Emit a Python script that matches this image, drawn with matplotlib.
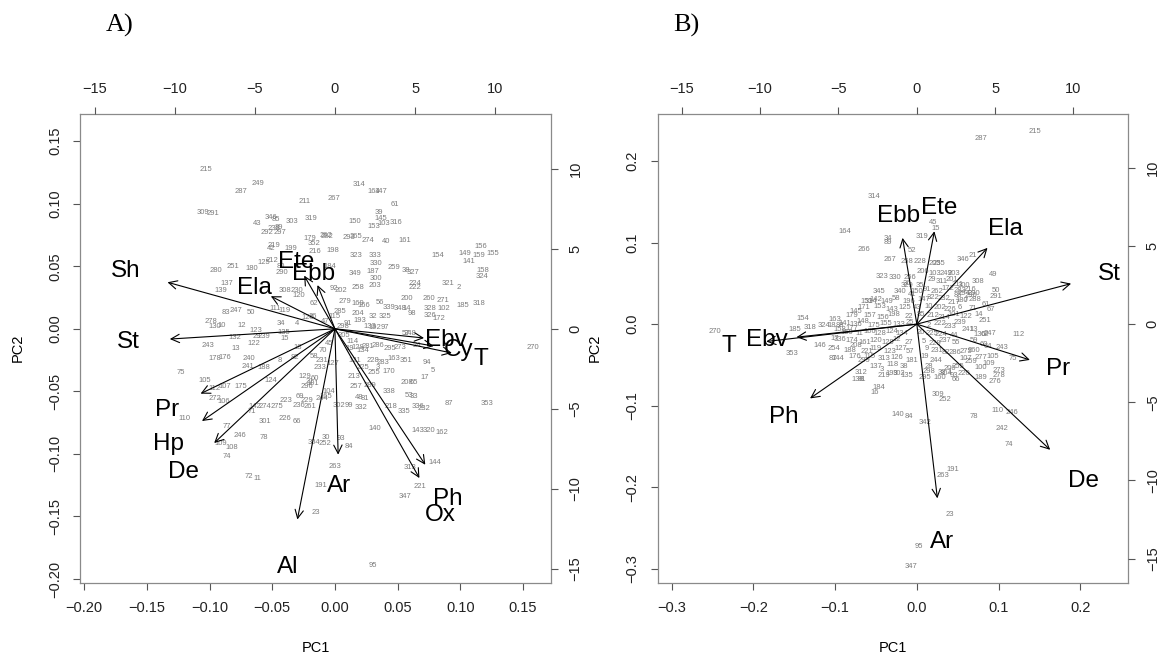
import matplotlib
matplotlib.use('Agg')
import matplotlib.pyplot as plt

plt.rcParams['font.family'] = ['Liberation Sans', 'DejaVu Sans']

# ---------------- panel A: observation scores (bottom / left scale) ----------------
a_lab = [215, 287, 249, 211, 267, 314, 164, 147, 61, 309,
         291, 346, 85, 43, 303, 319, 150, 39, 145, 153,
         103, 316, 238, 89, 292, 297, 179, 352, 216, 262,
         282, 293, 265, 274, 40, 161, 219, 42, 199, 198,
         323, 333, 330, 154, 156, 149, 159, 155, 141, 158,
         324, 280, 251, 180, 125, 212, 80, 290, 184, 349,
         300, 187, 203, 259, 38, 327, 258, 224, 222, 321,
         2, 137, 139, 92, 202, 308, 230, 120, 56, 339,
         348, 14, 200, 260, 271, 328, 102, 185, 318, 326,
         172, 98, 83, 247, 50, 111, 119, 62, 279, 169,
         285, 204, 32, 325, 278, 130, 10, 12, 123, 132,
         29, 239, 122, 243, 13, 178, 176, 240, 241, 188,
         8, 75, 105, 112, 107, 175, 124, 272, 106, 110,
         274, 275, 71, 142, 223, 236, 261, 301, 226, 66,
         77, 246, 78, 109, 108, 74, 72, 11, 30, 304,
         252, 93, 84, 263, 191, 23, 95, 140, 143, 320,
         162, 313, 221, 347, 144, 353, 87, 270, 338, 335,
         336, 232, 218, 208, 65, 17, 94, 5, 53, 33,
         170, 351, 163, 228, 283, 332, 48, 81, 302, 99,
         3, 255, 114, 205, 192, 57, 134, 26, 126, 34,
         4, 15, 135, 18, 82, 58, 231, 127, 233, 70,
         129, 21, 296, 60, 101, 104, 165, 69, 229, 244,
         166, 193, 133, 97, 248, 128, 281, 286, 295, 273,
         24, 121, 213, 257, 289, 225, 91, 47, 19, 45,
         115, 298]
a_x = [-0.103, -0.075, -0.061, -0.024, -0.001, 0.019, 0.031, 0.037, 0.048, -0.105,
       -0.097, -0.051, -0.047, -0.062, -0.034, -0.019, 0.016, 0.035, 0.037, 0.031,
       0.039, 0.049, -0.049, -0.045, -0.054, -0.044, -0.020, -0.017, -0.016, -0.007,
       -0.006, 0.011, 0.017, 0.026, 0.041, 0.056, -0.049, -0.051, -0.035, -0.002,
       0.017, 0.032, 0.033, 0.082, 0.116, 0.104, 0.115, 0.126, 0.107, 0.118,
       0.117, -0.095, -0.081, -0.066, -0.057, -0.050, -0.043, -0.042, -0.004, 0.016,
       0.033, 0.030, 0.032, 0.047, 0.057, 0.062, 0.018, 0.064, 0.064, 0.090,
       0.099, -0.086, -0.091, -0.001, 0.005, -0.040, -0.030, -0.029, 0.036, 0.043,
       0.052, 0.057, 0.057, 0.075, 0.086, 0.076, 0.087, 0.102, 0.115, 0.076,
       0.083, 0.061, -0.087, -0.079, -0.067, -0.048, -0.040, -0.017, 0.008, 0.018,
       0.004, 0.018, 0.030, 0.040, -0.099, -0.096, -0.090, -0.074, -0.063, -0.080,
       -0.062, -0.057, -0.065, -0.101, -0.079, -0.096, -0.088, -0.069, -0.069, -0.057,
       -0.044, -0.123, -0.104, -0.096, -0.088, -0.075, -0.051, -0.096, -0.089, -0.120,
       -0.056, -0.046, -0.066, -0.064, -0.039, -0.029, -0.020, -0.056, -0.040, -0.030,
       -0.086, -0.076, -0.057, -0.091, -0.082, -0.086, -0.069, -0.062, -0.007, -0.017,
       -0.008, 0.005, 0.011, 0.000, -0.011, -0.015, 0.030, 0.032, 0.066, 0.075,
       0.085, 0.060, 0.068, 0.056, 0.080, 0.121, 0.091, 0.158, 0.043, 0.055,
       0.066, 0.071, 0.045, 0.057, 0.063, 0.072, 0.073, 0.078, 0.059, 0.063,
       0.043, 0.057, 0.047, 0.030, 0.038, 0.021, 0.019, 0.024, 0.003, 0.011,
       0.034, 0.031, 0.014, 0.007, 0.032, 0.057, 0.022, -0.018, -0.022, -0.043,
       -0.030, -0.040, -0.041, -0.030, -0.032, -0.017, -0.010, -0.002, -0.012, -0.010,
       -0.024, -0.020, -0.022, -0.016, -0.018, -0.005, -0.007, -0.028, -0.022, -0.010,
       0.023, 0.020, 0.028, 0.040, 0.060, 0.018, 0.026, 0.034, 0.044, 0.052,
       0.065, 0.016, 0.015, 0.017, 0.028, 0.022, 0.010, -0.008, 0.012, -0.005,
       0.000, 0.006]
a_y = [0.127, 0.110, 0.116, 0.102, 0.104, 0.115, 0.110, 0.110, 0.099, 0.093,
       0.092, 0.089, 0.087, 0.084, 0.086, 0.088, 0.086, 0.093, 0.088, 0.082,
       0.084, 0.085, 0.080, 0.081, 0.077, 0.077, 0.072, 0.068, 0.062, 0.075,
       0.074, 0.073, 0.074, 0.071, 0.070, 0.071, 0.067, 0.064, 0.064, 0.063,
       0.059, 0.059, 0.052, 0.059, 0.066, 0.060, 0.059, 0.060, 0.054, 0.047,
       0.042, 0.047, 0.050, 0.048, 0.053, 0.055, 0.050, 0.045, 0.050, 0.044,
       0.040, 0.046, 0.035, 0.049, 0.047, 0.045, 0.033, 0.036, 0.033, 0.036,
       0.033, 0.036, 0.031, 0.032, 0.031, 0.031, 0.031, 0.027, 0.021, 0.017,
       0.016, 0.016, 0.024, 0.024, 0.023, 0.016, 0.016, 0.019, 0.020, 0.011,
       0.008, 0.012, 0.013, 0.015, 0.013, 0.016, 0.015, 0.020, 0.022, 0.020,
       0.014, 0.012, 0.010, 0.010, 0.006, 0.002, 0.003, 0.003, -0.001, -0.007,
       -0.006, -0.006, -0.012, -0.013, -0.016, -0.024, -0.023, -0.024, -0.030, -0.031,
       -0.025, -0.035, -0.041, -0.048, -0.046, -0.046, -0.041, -0.056, -0.058, -0.072,
       -0.062, -0.062, -0.066, -0.062, -0.057, -0.061, -0.062, -0.074, -0.072, -0.074,
       -0.078, -0.085, -0.087, -0.092, -0.095, -0.102, -0.118, -0.120, -0.087, -0.091,
       -0.092, -0.088, -0.094, -0.110, -0.125, -0.147, -0.189, -0.080, -0.081, -0.081,
       -0.083, -0.111, -0.126, -0.134, -0.107, -0.060, -0.060, -0.015, -0.050, -0.066,
       -0.062, -0.064, -0.062, -0.043, -0.043, -0.039, -0.027, -0.033, -0.053, -0.054,
       -0.034, -0.025, -0.024, -0.025, -0.027, -0.063, -0.055, -0.056, -0.061, -0.061,
       -0.031, -0.035, -0.010, -0.005, 0.001, -0.004, -0.017, 0.010, 0.009, 0.004,
       0.004, -0.008, -0.003, -0.015, -0.023, -0.022, -0.025, -0.028, -0.031, -0.017,
       -0.038, -0.042, -0.046, -0.040, -0.044, -0.050, -0.054, -0.054, -0.057, -0.056,
       0.019, 0.007, 0.002, 0.001, -0.004, -0.015, -0.014, -0.013, -0.016, -0.015,
       -0.013, -0.025, -0.038, -0.046, -0.045, -0.031, 0.004, 0.006, -0.016, -0.012,
       0.010, 0.002]

# panel A: variable loadings (top / right scale)
a_var = ['Sh', 'St', 'Ela', 'Ete', 'Ebb', 'Ebv', 'Cy', 'T',
         'Pr', 'Hp', 'De', 'Ar', 'Al', 'Ph', 'Ox']
a_vx = [-13.06, -12.88, -5.00, -2.40, -1.36, 6.95, 7.70, 9.12,
        -10.48, -10.37, -9.42, 0.25, -2.93, 7.05, 6.59]
a_vy = [3.64, -0.80, 2.55, 4.16, 3.42, -0.72, -1.35, -1.89,
        -5.07, -7.21, -8.93, -9.84, -14.91, -10.63, -11.67]

# ---------------- panel B: observation scores ----------------
b_lab = [287, 215, 314, 164, 266, 34, 89, 319, 45, 15,
         52, 267, 258, 228, 205, 235, 346, 21, 49, 308,
         50, 291, 290, 323, 330, 256, 206, 249, 329, 151,
         149, 145, 154, 185, 318, 324, 18, 88, 141, 158,
         270, 353, 146, 254, 17, 336, 87, 144, 312, 138,
         81, 3, 219, 184, 16, 313, 135, 295, 160, 66,
         309, 252, 140, 84, 342, 78, 110, 246, 242, 74,
         191, 263, 23, 95, 347, 112, 251, 243, 75, 277,
         105, 275, 273, 278, 276, 189, 122, 239, 241, 13,
         130, 62, 283, 180, 7, 30, 82, 286, 107, 208,
         221, 299, 304, 1, 36, 29, 311, 201, 211, 35,
         300, 340, 150, 91, 262, 172, 216, 41, 142, 58,
         196, 147, 322, 232, 217, 288, 61, 171, 153, 143,
         125, 43, 10, 202, 226, 6, 71, 67, 179, 157,
         156, 198, 22, 85, 212, 214, 101, 14, 136, 148,
         175, 155, 133, 25, 2, 222, 233, 159, 11, 106,
         128, 124, 134, 20, 225, 224, 44, 247, 174, 161,
         120, 129, 12, 27, 5, 229, 237, 55, 59, 60,
         188, 119, 123, 127, 57, 9, 231, 260, 64, 176,
         115, 126, 181, 19, 244, 259, 100, 109, 137, 118,
         38, 28, 200, 255, 220, 93, 199, 302, 298, 345,
         334, 163, 177, 103, 203, 86, 294, 296]
b_x = [0.078, 0.145, -0.052, -0.088, -0.065, -0.035, -0.036, 0.006, 0.020, 0.023,
       -0.006, -0.033, -0.012, 0.004, 0.022, 0.027, 0.056, 0.068, 0.093, 0.075,
       0.097, 0.097, 0.070, -0.043, -0.027, -0.008, 0.008, 0.036, -0.012, -0.061,
       -0.037, -0.074, -0.139, -0.149, -0.131, -0.114, -0.104, -0.094, -0.088, -0.094,
       -0.247, -0.153, -0.119, -0.101, -0.100, -0.094, -0.103, -0.097, -0.068, -0.072,
       -0.067, -0.043, -0.040, -0.046, -0.051, -0.040, -0.012, 0.010, 0.028, 0.048,
       0.026, 0.034, -0.023, -0.010, 0.010, 0.070, 0.099, 0.116, 0.104, 0.112,
       0.044, 0.032, 0.040, 0.003, -0.007, 0.124, 0.083, 0.104, 0.117, 0.079,
       0.093, 0.060, 0.101, 0.101, 0.095, 0.078, 0.060, 0.053, 0.062, 0.069,
       0.077, 0.083, 0.053, 0.055, 0.060, 0.030, 0.036, 0.047, 0.060, -0.074,
       -0.061, -0.065, 0.036, 0.040, -0.012, 0.018, 0.030, 0.043, 0.050, 0.004,
       0.058, -0.020, 0.000, 0.012, 0.025, 0.038, 0.065, -0.006, -0.050, -0.025,
       -0.010, 0.008, 0.020, 0.033, 0.045, 0.071, 0.085, -0.065, -0.045, -0.030,
       -0.015, 0.000, 0.014, 0.028, 0.040, 0.052, 0.068, 0.090, -0.080, -0.058,
       -0.042, -0.028, -0.010, 0.005, 0.020, 0.033, 0.045, 0.076, -0.075, -0.066,
       -0.052, -0.038, -0.022, -0.008, 0.015, 0.028, 0.040, -0.085, -0.070, -0.057,
       -0.045, -0.030, -0.018, 0.005, 0.018, 0.030, 0.046, 0.090, -0.080, -0.063,
       -0.050, -0.036, -0.025, -0.010, 0.008, 0.022, 0.034, 0.048, 0.070, 0.082,
       -0.082, -0.050, -0.033, -0.020, -0.008, 0.012, 0.025, 0.070, 0.087, -0.076,
       -0.058, -0.025, -0.006, 0.010, 0.024, 0.066, 0.078, 0.088, -0.050, -0.030,
       -0.016, 0.015, 0.040, 0.050, 0.058, 0.045, -0.030, -0.022, 0.015, -0.046,
       -0.056, -0.100, -0.080, 0.022, 0.045, 0.050, 0.058, 0.066]
b_y = [0.228, 0.236, 0.157, 0.113, 0.091, 0.105, 0.100, 0.108, 0.124, 0.117,
       0.090, 0.079, 0.077, 0.077, 0.074, 0.074, 0.079, 0.084, 0.061, 0.052,
       0.041, 0.034, 0.037, 0.058, 0.057, 0.057, 0.064, 0.062, 0.047, 0.028,
       0.028, 0.016, 0.007, -0.007, -0.004, -0.002, -0.002, -0.002, 0.001, -0.006,
       -0.009, -0.036, -0.026, -0.030, -0.018, -0.019, -0.042, -0.042, -0.059, -0.068,
       -0.068, -0.056, -0.063, -0.078, -0.084, -0.042, -0.063, -0.066, -0.065, -0.068,
       -0.086, -0.092, -0.111, -0.113, -0.120, -0.113, -0.106, -0.108, -0.128, -0.147,
       -0.178, -0.186, -0.233, -0.272, -0.297, -0.013, 0.004, -0.029, -0.042, -0.041,
       -0.040, -0.034, -0.057, -0.063, -0.070, -0.066, 0.009, 0.002, -0.007, -0.007,
       -0.013, -0.013, 0.041, 0.029, 0.029, -0.059, -0.035, -0.035, -0.042, -0.026,
       -0.033, -0.045, -0.061, -0.058, 0.050, 0.055, 0.052, 0.055, 0.049, 0.047,
       0.047, 0.040, 0.040, 0.042, 0.040, 0.044, 0.043, 0.036, 0.030, 0.032,
       0.028, 0.030, 0.033, 0.031, 0.027, 0.030, 0.024, 0.020, 0.022, 0.018,
       0.021, 0.020, 0.022, 0.020, 0.018, 0.020, 0.019, 0.018, 0.010, 0.011,
       0.008, 0.012, 0.009, 0.012, 0.010, 0.008, 0.012, 0.012, -0.001, 0.003,
       -0.002, 0.001, -0.001, 0.002, -0.002, 0.001, -0.003, -0.010, -0.012, -0.009,
       -0.012, -0.009, -0.012, -0.010, -0.011, -0.013, -0.014, -0.012, -0.020, -0.022,
       -0.020, -0.023, -0.019, -0.022, -0.021, -0.024, -0.020, -0.022, -0.020, -0.025,
       -0.032, -0.030, -0.033, -0.030, -0.034, -0.030, -0.032, -0.032, -0.028, -0.040,
       -0.040, -0.041, -0.044, -0.040, -0.044, -0.046, -0.053, -0.048, -0.052, -0.050,
       -0.052, -0.052, -0.054, -0.052, -0.060, -0.063, -0.060, -0.060, -0.058, 0.040,
       0.028, 0.006, -0.005, 0.062, 0.062, 0.035, 0.038, 0.035]

# panel B: variable loadings
b_var = ['Ebb', 'Ete', 'Ela', 'St', 'Pr', 'De', 'Ar', 'Ph', 'Ebv', 'T']
b_vx = [-1.14, 1.40, 5.64, 12.31, 9.02, 10.64, 1.64, -8.52, -9.60, -12.02]
b_vy = [6.90, 7.43, 6.10, 3.24, -2.86, -10.05, -13.93, -5.94, -1.04, -1.39]

a_ticks = [-0.20, -0.15, -0.10, -0.05, 0.00, 0.05, 0.10, 0.15]
b_ticks = [-0.3, -0.2, -0.1, 0.0, 0.1, 0.2]
top_ticks = [-15, -10, -5, 0, 5, 10]

W, H = 1164, 657
box_col = '#8a8a8a'
pt_col = '#7c7c7c'


def fmt(v, nd):
    s = ('%.' + str(nd) + 'f') % v
    if s.startswith('-') and float(s) == 0:
        s = s[1:]
    return s.replace('-', '\u2212')


def panel(fig, left, lab, xs, ys, var, vx, vy, lim, k, ticks, nd):
    rect = [left / W, 0.113, 470.2 / W, 0.714]
    ax = fig.add_axes(rect)
    ax.set_xlim(lim)
    ax.set_ylim(lim)
    for s in ax.spines.values():
        s.set_color(box_col)
        s.set_linewidth(0.9)
    ax.set_xticks(ticks)
    ax.set_yticks(ticks)
    ax.set_xticklabels([fmt(t, nd) for t in ticks])
    ax.set_yticklabels([fmt(t, nd) for t in ticks], rotation=90, va='center')
    ax.tick_params(direction='out', length=5, width=0.8, color='#555555',
                   labelsize=10.5, labelcolor='#222222')
    ax.tick_params(axis='x', pad=8)
    ax.tick_params(axis='y', pad=8)
    for t, x, y in zip(lab, xs, ys):
        ax.text(x, y, str(t), fontsize=5.5, color=pt_col, ha='center', va='center')

    # second coordinate system for the loadings, as in R's biplot
    ax2 = fig.add_axes(rect, frameon=False)
    ax2.set_xlim(lim[0] * k, lim[1] * k)
    ax2.set_ylim(lim[0] * k, lim[1] * k)
    ax2.xaxis.tick_top()
    ax2.yaxis.tick_right()
    ax2.set_xticks(top_ticks)
    ax2.set_yticks(top_ticks)
    ax2.set_xticklabels([fmt(t, 0) for t in top_ticks])
    ax2.set_yticklabels([fmt(t, 0) for t in top_ticks], rotation=90, va='center')
    ax2.tick_params(direction='out', length=5, width=0.8, color='#555555',
                    labelsize=10.5, labelcolor='#222222', pad=8)
    for name, x, y in zip(var, vx, vy):
        ax2.annotate('', xy=(0.8 * x, 0.8 * y), xytext=(0, 0),
                     arrowprops=dict(arrowstyle='->,head_length=0.6,head_width=0.3',
                                     color='black', lw=0.8, shrinkA=0, shrinkB=0))
        ax2.text(x, y, name, fontsize=17.5, ha='center', va='center')
    return ax, ax2


fig = plt.figure(figsize=(W / 100, H / 100), dpi=100)

panel(fig, 80.4, a_lab, a_x, a_y, a_var, a_vx, a_vy, (-0.203, 0.172), 78.25, a_ticks, 2)
panel(fig, 657.6, b_lab, b_x, b_y, b_var, b_vx, b_vy, (-0.317, 0.258), 52.2, b_ticks, 1)

# panel tags and axis titles
fig.text(120 / W, 1 - 25 / H, 'A)', family='Liberation Serif', fontsize=19, ha='center', va='center')
fig.text(686 / W, 1 - 25 / H, 'B)', family='Liberation Serif', fontsize=19, ha='center', va='center')
fig.text(315.5 / W, 1 - 648 / H, 'PC1', fontsize=10.5, ha='center', va='center')
fig.text(892.7 / W, 1 - 648 / H, 'PC1', fontsize=10.5, ha='center', va='center')
fig.text(17.7 / W, 1 - 348 / H, 'PC2', fontsize=10.5, ha='center', va='center', rotation=90)
fig.text(595 / W, 1 - 348 / H, 'PC2', fontsize=10.5, ha='center', va='center', rotation=90)

fig.savefig('out.png', dpi=100)
